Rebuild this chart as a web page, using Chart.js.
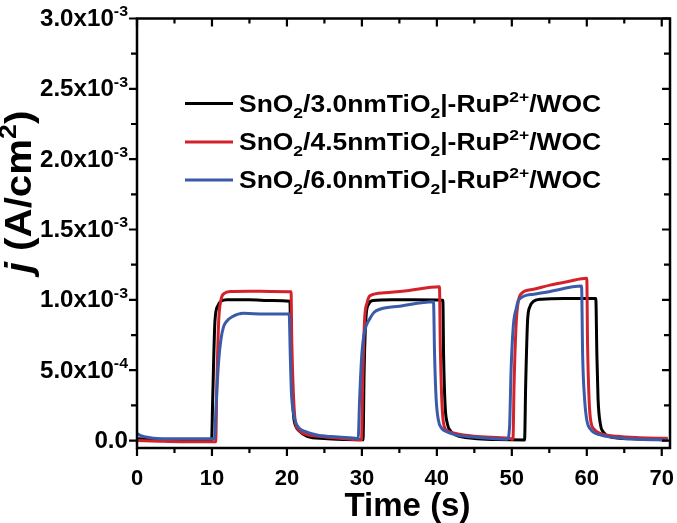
<!DOCTYPE html>
<html>
<head>
<meta charset="utf-8">
<script src="https://cdn.jsdelivr.net/npm/chart.js@4"></script>
<style>
html,body{margin:0;padding:0;background:#fff;}
#wrap{width:677px;height:523px;position:relative;}
</style>
</head>
<body>
<div id="wrap"><canvas id="c"></canvas></div>
<script>
// ---- data (time in s, current density in A/cm^2) ----
const seriesNames = [
  'SnO_2/3.0nmTiO_2|-RuP^{2+}/WOC',
  'SnO_2/4.5nmTiO_2|-RuP^{2+}/WOC',
  'SnO_2/6.0nmTiO_2|-RuP^{2+}/WOC'
];
const seriesColors = ['#000000', '#d3222a', '#3b5ba9'];

const tBlack = [0, 3, 6, 9.95, 10.1, 10.4, 10.8, 11.2, 12, 15, 18, 20.4, 20.5, 20.7, 20.9, 21.2, 21.6, 22.7, 25, 28,
  30.15, 30.3, 30.55, 30.9, 31.5, 34, 37, 40.8, 40.9, 41.1, 41.4, 41.8, 42.5, 45, 48,
  51.7, 51.85, 52.1, 52.4, 52.9, 54, 57, 61.2, 61.35, 61.5, 61.8, 62.2, 63.1, 66, 70.8];
const jBlack = [0.012e-3, 0.008e-3, 0.006e-3, 0.005e-3, 0.3e-3, 0.85e-3, 0.96e-3, 0.99e-3, 1.0e-3, 1.0e-3, 0.995e-3, 0.99e-3, 0.7e-3, 0.35e-3, 0.17e-3, 0.1e-3, 0.07e-3, 0.03e-3, 0.014e-3, 0.007e-3,
  0.005e-3, 0.5e-3, 0.88e-3, 0.97e-3, 0.995e-3, 1.0e-3, 1.0e-3, 0.998e-3, 0.6e-3, 0.25e-3, 0.12e-3, 0.07e-3, 0.04e-3, 0.015e-3, 0.007e-3,
  0.004e-3, 0.4e-3, 0.85e-3, 0.95e-3, 0.99e-3, 1.005e-3, 1.01e-3, 1.01e-3, 0.6e-3, 0.3e-3, 0.12e-3, 0.06e-3, 0.027e-3, 0.012e-3, 0.006e-3];

const tRed = [0, 3, 6, 10.5, 10.65, 10.9, 11.2, 11.6, 12.5, 15, 18, 20.55, 20.65, 20.85, 21.1, 21.5, 22.2, 24.9, 28,
  29.95, 30.1, 30.35, 30.7, 31.1, 33, 36, 40.35, 40.45, 40.65, 40.9, 41.4, 42.5, 45, 49.6,
  50.15, 50.3, 50.6, 50.9, 51.3, 52.9, 55.1, 57.5, 60.0, 60.1, 60.3, 60.5, 61, 61.8, 64, 67, 70.8];
const jRed = [0.0, -0.005e-3, -0.008e-3, -0.008e-3, 0.4e-3, 0.85e-3, 1.0e-3, 1.045e-3, 1.06e-3, 1.062e-3, 1.06e-3, 1.058e-3, 0.7e-3, 0.35e-3, 0.14e-3, 0.08e-3, 0.051e-3, 0.027e-3, 0.012e-3,
  0.005e-3, 0.4e-3, 0.85e-3, 0.98e-3, 1.03e-3, 1.05e-3, 1.065e-3, 1.093e-3, 0.7e-3, 0.3e-3, 0.12e-3, 0.07e-3, 0.05e-3, 0.03e-3, 0.016e-3,
  0.01e-3, 0.4e-3, 0.85e-3, 0.999e-3, 1.046e-3, 1.075e-3, 1.105e-3, 1.13e-3, 1.153e-3, 0.7e-3, 0.3e-3, 0.15e-3, 0.08e-3, 0.051e-3, 0.03e-3, 0.02e-3, 0.016e-3];

const tBlue = [0, 0.5, 1.2, 2.2, 5, 9, 10.35, 10.55, 10.9, 11.2, 11.55, 12, 12.7, 14.2, 17, 20.3, 20.45, 20.6, 20.8, 21.1, 21.6, 22.5, 24, 25.8, 29.1,
  29.5, 29.7, 30.0, 30.3, 30.6, 31.1, 31.6, 32.5, 35, 39.55, 39.7, 39.9, 40.2, 40.6, 41.3, 42.5, 44.4, 49.4,
  49.7, 49.9, 50.2, 50.6, 50.9, 52.9, 55.1, 59.3, 59.45, 59.7, 60.0, 60.5, 61.8, 64, 67, 70.8];
const jBlue = [0.05e-3, 0.035e-3, 0.025e-3, 0.016e-3, 0.012e-3, 0.012e-3, 0.015e-3, 0.25e-3, 0.57e-3, 0.72e-3, 0.81e-3, 0.85e-3, 0.88e-3, 0.904e-3, 0.9e-3, 0.899e-3, 0.6e-3, 0.34e-3, 0.22e-3, 0.14e-3, 0.09e-3, 0.063e-3, 0.04e-3, 0.028e-3, 0.016e-3,
  0.012e-3, 0.3e-3, 0.62e-3, 0.76e-3, 0.82e-3, 0.87e-3, 0.91e-3, 0.935e-3, 0.955e-3, 0.987e-3, 0.6e-3, 0.3e-3, 0.146e-3, 0.09e-3, 0.063e-3, 0.04e-3, 0.027e-3, 0.01e-3,
  0.1e-3, 0.5e-3, 0.815e-3, 0.94e-3, 0.999e-3, 1.04e-3, 1.06e-3, 1.098e-3, 0.6e-3, 0.3e-3, 0.146e-3, 0.08e-3, 0.04e-3, 0.02e-3, 0.01e-3, 0.004e-3];

const xMajorTicks = [0, 10, 20, 30, 40, 50, 60, 70];
const xMinorTicks = [5, 15, 25, 35, 45, 55, 65];
const yMajorTicks = [0, 0.5e-3, 1.0e-3, 1.5e-3, 2.0e-3, 2.5e-3, 3.0e-3];
const yMinorTicks = [0.25e-3, 0.75e-3, 1.25e-3, 1.75e-3, 2.25e-3, 2.75e-3];
const yTickLabels = ['0.0', '5.0x10^{-4}', '1.0x10^{-3}', '1.5x10^{-3}', '2.0x10^{-3}', '2.5x10^{-3}', '3.0x10^{-3}'];
const xTitle = 'Time (s)';
const yTitle = '*j* (A/cm^{2})';

// ---- rich text helpers ----
function parseRich(s) {
  const parts = [];
  let i = 0, buf = '';
  const flush = (k) => { if (buf) { parts.push({ t: buf, k: k || 'n' }); buf = ''; } };
  while (i < s.length) {
    const ch = s[i];
    if (ch === '_' || ch === '^') {
      flush();
      const k = ch === '_' ? 'sub' : 'sup';
      if (s[i + 1] === '{') {
        const e = s.indexOf('}', i);
        parts.push({ t: s.slice(i + 2, e), k });
        i = e + 1;
      } else { parts.push({ t: s[i + 1], k }); i += 2; }
    } else if (ch === '*') {
      flush();
      const e = s.indexOf('*', i + 1);
      parts.push({ t: s.slice(i + 1, e), k: 'it' });
      i = e + 1;
    } else { buf += ch; i++; }
  }
  flush();
  return parts;
}
const FAM = '"Liberation Sans", Arial, sans-serif';
function fontFor(k, size) {
  if (k === 'sub' || k === 'sup') return 'bold ' + (size * 0.66) + 'px ' + FAM;
  if (k === 'it') return 'italic bold ' + size + 'px ' + FAM;
  return 'bold ' + size + 'px ' + FAM;
}
function richWidth(ctx, parts, size) {
  let w = 0;
  for (const p of parts) { ctx.font = fontFor(p.k, size); w += ctx.measureText(p.t).width; }
  return w;
}
function drawRich(ctx, parts, size, x, y) { // y = baseline
  let cx = x;
  ctx.textBaseline = 'alphabetic';
  ctx.textAlign = 'left';
  for (const p of parts) {
    ctx.font = fontFor(p.k, size);
    let dy = 0;
    if (p.k === 'sub') dy = size * 0.28;
    if (p.k === 'sup') dy = -size * 0.42;
    ctx.fillText(p.t, cx, y + dy);
    cx += ctx.measureText(p.t).width;
  }
}

const framePlugin = {
  id: 'frame',
  afterDraw(chart) {
    const ctx = chart.ctx;
    const xs = chart.scales.x, ys = chart.scales.y;
    const a = chart.chartArea;
    ctx.save();
    ctx.strokeStyle = '#000';
    ctx.fillStyle = '#000';
    // frame
    ctx.lineWidth = 2.5;
    ctx.strokeRect(a.left, a.top, a.right - a.left, a.bottom - a.top);
    ctx.lineWidth = 2.2;
    ctx.beginPath();
    for (const v of xMajorTicks) {
      const px = xs.getPixelForValue(v);
      ctx.moveTo(px, a.bottom); ctx.lineTo(px, a.bottom + 8);
      ctx.moveTo(px, a.top); ctx.lineTo(px, a.top + 8);
    }
    for (const v of xMinorTicks) {
      const px = xs.getPixelForValue(v);
      ctx.moveTo(px, a.bottom); ctx.lineTo(px, a.bottom + 5);
      ctx.moveTo(px, a.top); ctx.lineTo(px, a.top + 5);
    }
    for (const v of yMajorTicks) {
      const py = ys.getPixelForValue(v);
      ctx.moveTo(a.left, py); ctx.lineTo(a.left - 8, py);
      ctx.moveTo(a.right, py); ctx.lineTo(a.right - 8, py);
    }
    for (const v of yMinorTicks) {
      const py = ys.getPixelForValue(v);
      ctx.moveTo(a.left, py); ctx.lineTo(a.left - 6, py);
      ctx.moveTo(a.right, py); ctx.lineTo(a.right - 6, py);
    }
    ctx.stroke();

    // x tick labels
    ctx.font = 'bold 22px ' + FAM;
    ctx.textAlign = 'center';
    ctx.textBaseline = 'alphabetic';
    for (const v of xMajorTicks) {
      ctx.fillText(String(v), xs.getPixelForValue(v), a.bottom + 37);
    }
    // y tick labels
    const ySX = 1.05, ySize = 23;
    yMajorTicks.forEach((v, i) => {
      const parts = parseRich(yTickLabels[i]);
      const w = richWidth(ctx, parts, ySize) * ySX;
      const py = ys.getPixelForValue(v);
      ctx.save();
      ctx.translate(a.left - 9 - w, py + 7.5);
      ctx.scale(ySX, 1);
      drawRich(ctx, parts, ySize, 0, 0);
      ctx.restore();
    });
    // x title
    ctx.font = 'bold 33px ' + FAM;
    ctx.textAlign = 'center';
    ctx.fillText(xTitle, (a.left + a.right) / 2 + 4, 516);
    // y title
    const tSize = 36, tSX = 1.12;
    const tp = parseRich(yTitle);
    const tw = richWidth(ctx, tp, tSize) * tSX;
    ctx.save();
    ctx.translate(31, 192);
    ctx.rotate(-Math.PI / 2);
    ctx.translate(-tw / 2, 0);
    ctx.scale(tSX, 1);
    drawRich(ctx, tp, tSize, 0, 0);
    ctx.restore();

    // legend
    const legY = [103.5, 142, 180];
    const legSX = 1.15, legSize = 23;
    seriesNames.forEach((name, i) => {
      ctx.strokeStyle = seriesColors[i];
      ctx.lineWidth = 3;
      ctx.beginPath();
      ctx.moveTo(185, legY[i]); ctx.lineTo(233, legY[i]);
      ctx.stroke();
      ctx.fillStyle = '#000';
      ctx.save();
      ctx.translate(239, legY[i] + 8);
      ctx.scale(legSX, 1);
      drawRich(ctx, parseRich(name), legSize, 0, 0);
      ctx.restore();
    });
    ctx.restore();
  }
};

function pts(t, j) { return t.map((v, i) => ({ x: v, y: j[i] })); }

new Chart(document.getElementById('c'), {
  type: 'line',
  data: {
    datasets: [
      { label: seriesNames[0], data: pts(tBlack, jBlack), borderColor: seriesColors[0], order: 3 },
      { label: seriesNames[1], data: pts(tRed, jRed), borderColor: seriesColors[1], order: 2 },
      { label: seriesNames[2], data: pts(tBlue, jBlue), borderColor: seriesColors[2], order: 1 }
    ]
  },
  options: {
    responsive: true,
    maintainAspectRatio: false,
    animation: false,
    devicePixelRatio: 1,
    layout: { padding: { left: 137, right: 7, top: 18.5, bottom: 75 } },
    elements: {
      point: { radius: 0 },
      line: { borderWidth: 3, cubicInterpolationMode: 'monotone', fill: false }
    },
    scales: {
      x: { type: 'linear', min: 0, max: 71.1, display: false },
      y: { type: 'linear', min: -0.053e-3, max: 3.0e-3, display: false }
    },
    plugins: { legend: { display: false }, tooltip: { enabled: false } }
  },
  plugins: [framePlugin]
});
</script>
</body>
</html>
